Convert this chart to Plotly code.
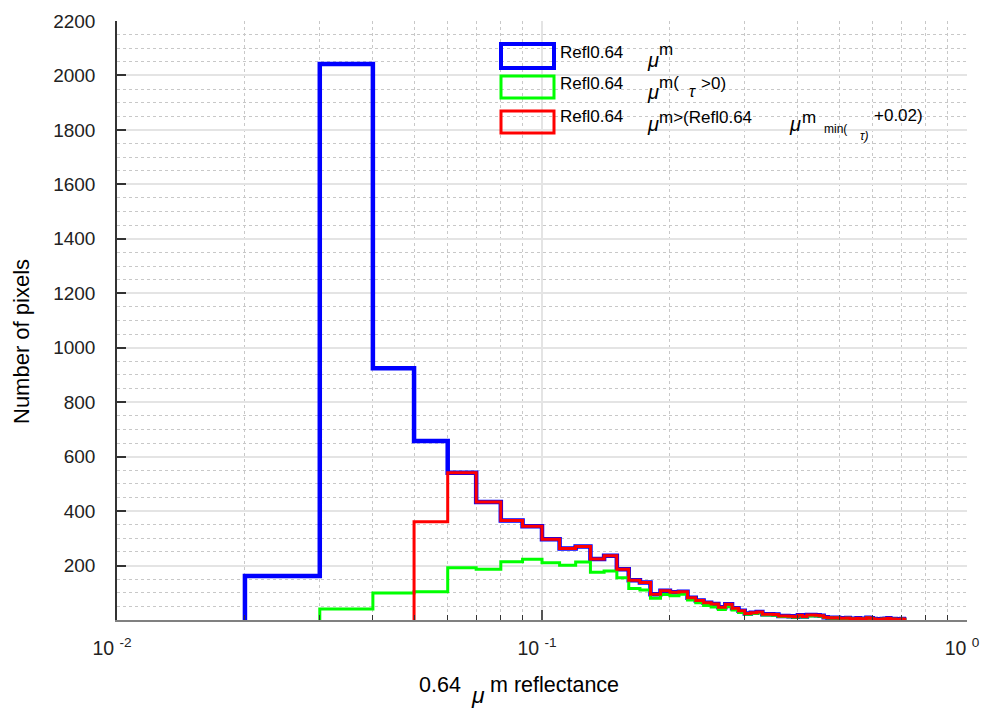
import plotly.graph_objects as go

# ---------------- data ----------------
# bin left edges (width 0.01) from 0.02 to 0.71, last right edge 0.72
bin_left = [round(0.01 * k, 2) for k in range(2, 72)]
bin_right_end = 0.72

counts_all = [162, 2042, 925, 657, 541, 433, 365, 344, 297, 263,
              270, 224, 236, 186, 146, 138, 95, 107, 102, 104,
              82, 72, 63, 59, 47, 58, 43, 34, 24, 27,
              29, 21, 21, 20, 15, 15, 14, 12, 17, 13,
              18, 18, 17, 16, 10, 8, 7, 8, 6, 6,
              7, 5, 5, 6, 4, 5, 8, 6, 4, 3,
              0, 4, 5, 6, 4, 4, 3, 0, 4, 3]

counts_tau = [0, 40, 99, 104, 192, 186, 214, 223, 210, 201,
              213, 175, 180, 155, 116, 110, 80, 94, 89, 95,
              73, 63, 53, 48, 39, 49, 37, 28, 21, 24,
              26, 18, 18, 17, 13, 13, 12, 10, 14, 11,
              15, 16, 15, 14, 9, 7, 6, 7, 5, 5,
              6, 4, 4, 5, 3, 4, 7, 5, 3, 2,
              0, 3, 4, 5, 3, 3, 2, 0, 3, 2]

counts_min = [0, 0, 0, 361, 541, 433, 365, 344, 297, 263,
              270, 224, 236, 186, 146, 138, 95, 107, 102, 104,
              82, 72, 63, 59, 47, 58, 43, 34, 24, 27,
              29, 21, 21, 20, 15, 15, 14, 12, 17, 13,
              18, 18, 17, 16, 10, 8, 7, 8, 6, 6,
              7, 5, 5, 6, 4, 5, 8, 6, 4, 3,
              0, 4, 5, 6, 4, 4, 3, 0, 4, 3]

x_major_ticks = [0.01, 0.1, 1]
x_major_text = ["10 <sup>-2</sup>", "10 <sup>-1</sup>", "10 <sup>0</sup>"]
x_minor_ticks = [0.02, 0.03, 0.04, 0.05, 0.06, 0.07, 0.08, 0.09,
                 0.2, 0.3, 0.4, 0.5, 0.6, 0.7, 0.8, 0.9]
y_ticks = [200, 400, 600, 800, 1000, 1200, 1400, 1600, 1800, 2000, 2200]

# ---------------- helpers ----------------
W, H = 983, 711
L, R, T, B = 117, 967, 21, 620


def stairs(vals):
    # skip leading empty bins so the line starts with a vertical rise
    start = 0
    while start < len(vals) and vals[start] == 0:
        start += 1
    xs = [bin_left[start]]
    ys = [0]
    for i in range(start, len(vals)):
        xs.append(bin_left[i])
        ys.append(vals[i])
    xs.append(bin_right_end)
    ys.append(vals[-1])
    return xs, ys


def px(x):
    return (x - L) / (R - L)


def py(y):
    return (B - y) / (B - T)


FONT = "Liberation Sans, Arial, sans-serif"

fig = go.Figure()
for vals, col, w in [(counts_all, "#0000FF", 4.5),
                     (counts_tau, "#00FF00", 3),
                     (counts_min, "#FF0000", 3)]:
    xs, ys = stairs(vals)
    fig.add_trace(go.Scatter(x=xs, y=ys, mode="lines",
                             line=dict(color=col, width=w, shape="hv"),
                             showlegend=False, hoverinfo="skip"))

annotations = []


def ann(text, x, baseline, size, italic=False, anchor="left"):
    if italic:
        text = "<i>" + text + "</i>"
    annotations.append(dict(text=text, x=px(x), y=py(baseline - 0.33 * size),
                            xref="paper", yref="paper", xanchor=anchor,
                            yanchor="middle", showarrow=False,
                            font=dict(family=FONT, size=size, color="black")))


# legend text
ann("Refl0.64", 558, 58, 17)
ann("μ", 645, 67, 20, italic=True)
ann("m", 657, 55, 17)

ann("Refl0.64", 558, 89, 17)
ann("μ", 645, 99, 20, italic=True)
ann("m(", 657, 88, 17)
ann("τ", 687, 97, 16, italic=True)
ann(">0)", 699, 89, 17)

ann("Refl0.64", 558, 122, 17)
ann("μ", 645, 131, 20, italic=True)
ann("m>(Refl0.64", 657, 123, 17)
ann("μ", 787, 131, 20, italic=True)
ann("m", 800, 123, 17)
ann("min(", 822, 133, 12)
ann("τ)", 858, 140, 12, italic=True)
ann("+0.02)", 872, 121, 17)

# x-axis label
ann("0.64", 417, 692, 21.5)
ann("μ", 469, 703, 23, italic=True)
ann("m reflectance", 488, 692, 21.5)

# y-axis label
annotations.append(dict(text="Number of pixels", x=px(21), y=py(342),
                        xref="paper", yref="paper", xanchor="center",
                        yanchor="middle", textangle=-90, showarrow=False,
                        font=dict(family=FONT, size=22, color="black")))

# legend boxes
shapes = []
for (y0, y1, col, w) in [(44, 68, "#0000FF", 4), (76, 98, "#00FF00", 3),
                         (111, 133, "#FF0000", 3)]:
    shapes.append(dict(type="rect", xref="paper", yref="paper",
                       x0=px(501), x1=px(554), y0=py(y1), y1=py(y0),
                       line=dict(color=col, width=w),
                       fillcolor="rgba(255,255,255,0)"))

fig.update_layout(
    width=W, height=H,
    margin=dict(l=L, r=W - R, t=T, b=H - B, pad=0, autoexpand=False),
    paper_bgcolor="white", plot_bgcolor="white",
    font=dict(family=FONT, size=19, color="black"),
    annotations=annotations, shapes=shapes,
    xaxis=dict(type="log", range=[-2, 0], automargin=False,
               tickmode="array", tickvals=x_major_ticks, ticktext=x_major_text,
               ticks="inside", ticklen=10, tickwidth=1.5, tickcolor="#555555",
               showline=True, linecolor="#808080", linewidth=2,
               showgrid=True, gridcolor="#e4e4e4", gridwidth=1.5,
               zeroline=False, ticklabelstandoff=10, ticklabeloverflow="allow",
               ticklabelshift=-5,
               tickfont=dict(family=FONT, size=19.5, color="#222222"),
               minor=dict(tickmode="array", tickvals=x_minor_ticks,
                          ticks="inside", ticklen=5, tickwidth=1,
                          tickcolor="#333333", showgrid=True,
                          gridcolor="#c8c8c8", griddash="dot", gridwidth=1)),
    yaxis=dict(range=[0, 2200], tickmode="array", tickvals=y_ticks,
               automargin=False,
               ticks="inside", ticklen=9, tickwidth=1.5, tickcolor="#333333",
               showline=True, linecolor="#333333", linewidth=1.5,
               showgrid=True, gridcolor="#e4e4e4", gridwidth=1.5,
               zeroline=False, ticklabelstandoff=16,
               tickfont=dict(family=FONT, size=19, color="#222222"),
               minor=dict(dtick=50, tick0=0, ticks="", showgrid=True,
                          gridcolor="#c8c8c8", griddash="dot", gridwidth=1)),
)

fig.write_html("out.html")
